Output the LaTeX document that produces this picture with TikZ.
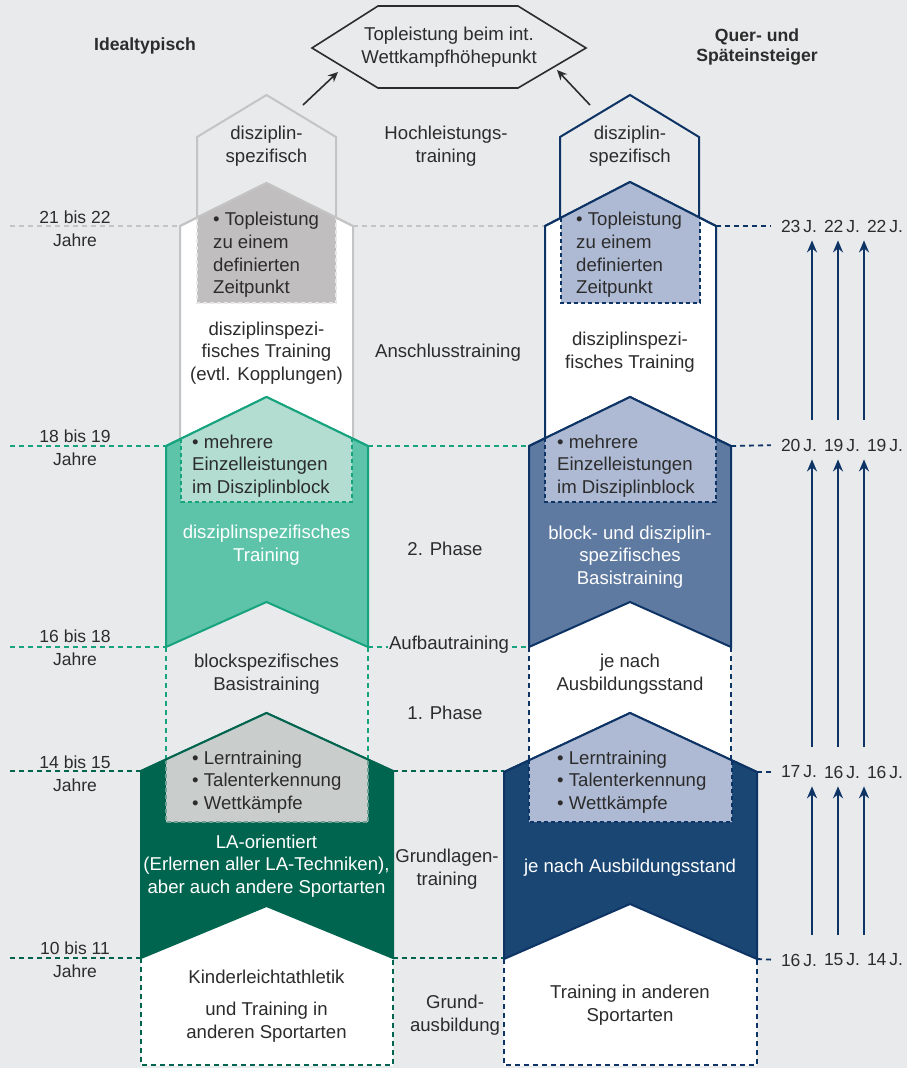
\documentclass[tikz,border=0pt]{standalone}
\usepackage{fontspec}
\setmainfont{Liberation Sans}
\usetikzlibrary{arrows.meta,positioning}
\definecolor{bg}{HTML}{E9EAEC}
\definecolor{txt}{HTML}{2C2C2C}
\definecolor{lgray}{HTML}{C4C4C4}
\definecolor{mgray}{HTML}{C1BEBF}
\definecolor{tgreen}{HTML}{16A37E}
\definecolor{mgreen}{HTML}{5EC4A9}
\definecolor{lgreen}{HTML}{B2DDD0}
\definecolor{dgreen}{HTML}{00654F}
\definecolor{ggray}{HTML}{C9CECC}
\definecolor{navy}{HTML}{0E3465}
\definecolor{mblue}{HTML}{5F7AA1}
\definecolor{lblue}{HTML}{AEBAD3}
\definecolor{dblue}{HTML}{1A4673}
\tikzset{
    lbl/.style={font=\fontsize{18.6}{22.6}\selectfont, text=txt, align=center, inner sep=1pt},
    wlbl/.style={lbl, text=white},
    blist/.style={lbl, align=left, anchor=west},
    agel/.style={lbl, font=\fontsize{17.5}{22.6}\selectfont},
    head/.style={lbl, font=\fontsize{17.6}{19.5}\selectfont\bfseries},
    stage line/.style={line width=1.8pt, dash pattern=on 5pt off 4pt},
    box line/.style={line width=1.5pt, dash pattern=on 4pt off 3pt},
    block/.style={line width=2pt},
    up arrow/.style={-{Stealth[length=12pt,width=10pt]}, line width=2pt, draw=navy, shorten <=18pt, shorten >=7pt},
    top arrow/.style={-{Stealth[length=10pt,width=9pt]}, line width=1.6pt, draw=txt}
}

\begin{document}
\begin{tikzpicture}[x=1pt,y=-1pt, every node/.style={lbl}]
	\fill[bg] (0,0) rectangle (907,1068);
	\useasboundingbox (0,0) rectangle (907,1068);

	\draw[stage line, lgray] (10,226) -- (180,226) (353,226) -- (545,226);
	\draw[stage line, tgreen] (10,446) -- (166,446) (368,446) -- (529,446) (10,647) -- (166,647) (368,647) -- (529,647);
	\draw[stage line, dgreen] (10,771) -- (141,771) (393,771) -- (504,771) (10,958) -- (141,958) (393,958) -- (504,958);

	\draw[block, lgray] (197,230) -- (197,137) -- (266.5,95) -- (336,137) -- (336,230);
	\filldraw[block, draw=lgray, fill=white] (180,460) -- (180,226) -- (266.5,183) -- (353,226) -- (353,460);
	\fill[mgray] (197,303) -- (197,217.5) -- (266.5,183) -- (336,217.5) -- (336,303) -- cycle;
	\draw[box line, lgray!40] (197,217.5) -- (197,303) -- (336,303) -- (336,217.5);
	\draw[block, lgray] (180,226) -- (266.5,183) -- (353,226);
	\draw[stage line, tgreen] (166,647) -- (166,780) (368,647) -- (368,780);
	\fill[white] (141,900) rectangle (393,1066);
	\draw[stage line, dgreen] (141,958) -- (141,1065) -- (393,1065) -- (393,958);
	\filldraw[block, draw=tgreen, fill=mgreen] (166,446) -- (266.5,397) -- (368,446) -- (368,647) -- (266.5,602) -- (166,647) -- cycle;
	\fill[lgreen] (181,502) -- (181,439) -- (266.5,397) -- (352,439) -- (352,502) -- cycle;
	\draw[box line, tgreen] (181,439) -- (181,502) -- (352,502) -- (352,439);
	\draw[block, tgreen] (166,446) -- (266.5,397) -- (368,446);
	\filldraw[block, draw=dgreen, fill=dgreen] (141,771) -- (266.5,713) -- (393,771) -- (393,958) -- (266.5,906) -- (141,958) -- cycle;
	\fill[ggray] (166,822) -- (166,759.5) -- (266.5,713) -- (368,759.5) -- (368,822) -- cycle;
	\draw[box line, dgreen!45!ggray] (166,759.5) -- (166,822) -- (368,822) -- (368,759.5);
	\draw[block, dgreen] (141,771) -- (266.5,713) -- (393,771);

	\draw[block, navy] (560,230) -- (560,137) -- (630,95) -- (699,137) -- (699,230);
	\filldraw[block, draw=navy, fill=white] (545,460) -- (545,226) -- (630,182) -- (716,226) -- (716,460);
	\fill[lblue] (561,303) -- (561,217.7) -- (630,182) -- (700,217.7) -- (700,303) -- cycle;
	\draw[box line, navy] (561,217.7) -- (561,303) -- (700,303) -- (700,217.7);
	\draw[block, navy] (545,226) -- (630,182) -- (716,226);
	\fill[white] (529,600) rectangle (731,780);
	\draw[stage line, navy] (529,647) -- (529,780) (731,647) -- (731,780);
	\fill[white] (504,900) rectangle (757,1066);
	\draw[stage line, navy] (504,959) -- (504,1065) -- (757,1065) -- (757,959);
	\filldraw[block, draw=navy, fill=mblue] (529,446) -- (630,397) -- (731,446) -- (731,647) -- (630,602) -- (529,647) -- cycle;
	\fill[lblue] (545,502) -- (545,438.2) -- (630,397) -- (716,438.7) -- (716,502) -- cycle;
	\draw[box line, navy] (545,438.2) -- (545,502) -- (716,502) -- (716,438.7);
	\draw[block, navy] (529,446) -- (630,397) -- (731,446);
	\filldraw[block, draw=navy, fill=dblue] (504,772) -- (630,713) -- (757,772) -- (757,959) -- (630,904) -- (504,959) -- cycle;
	\fill[lblue] (529,822) -- (529,760.3) -- (630,713) -- (732,760.3) -- (732,822) -- cycle;
	\draw[box line, navy] (529,760.3) -- (529,822) -- (732,822) -- (732,760.3);
	\draw[block, navy] (504,772) -- (630,713) -- (757,772);

	\draw[line width=1.6pt, txt] (312,48) -- (378,6) -- (518,6) -- (586,48) -- (518,88) -- (378,88) -- cycle;
	\node (peak) at (449,47) {Topleistung beim int.\\Wettkampfhöhepunkt};
	\coordinate (la) at (303,105);
	\coordinate (lb) at (338,72);
	\coordinate (ra) at (590,105);
	\coordinate (rb) at (557,70);
	\draw[top arrow] (la) -- (lb);
	\draw[top arrow] (ra) -- (rb);

	\node[head] (ideal) at (145,46) {Idealtypisch};
	\node[head] (quer) at (757,47) {Quer- und\\Späteinsteiger};

	\node[agel] (y21) at (75,229) {21 bis 22\\Jahre};
	\node[agel] (y18) at (75,448) {18 bis 19\\Jahre};
	\node[agel] (y16) at (75,648) {16 bis 18\\Jahre};
	\node[agel] (y14) at (75,774) {14 bis 15\\Jahre};
	\node[agel] (y10) at (75,960) {10 bis 11\\Jahre};

	\node (hl) at (446,146) {Hochleistungs-\\training};
	\node (an) at (448,353) {Anschlusstraining};
	\node (p2) at (445,549) {2. Phase};
	\node[fill=bg] (auf) at (449,645) {Aufbautraining};
	\node (p1) at (445,713) {1. Phase};
	\node (gl) at (447,869) {Grundlagen-\\training};
	\node (ga) at (455,1015) {Grund-\\ausbildung};

	\node (ls1) at (266.5,146) {disziplin-\\spezifisch};
	\node[blist] (ll1) at (212,255) {• Topleistung\\zu einem\\definierten\\Zeitpunkt};
	\node (ls2) at (266.5,353) {disziplinspezi-\\fisches Training\\(evtl. Kopplungen)};
	\node[blist] (ll2) at (191,466) {• mehrere\\Einzelleistungen\\im Disziplinblock};
	\node[wlbl] (ls3) at (266.5,545) {disziplinspezifisches\\Training};
	\node (ls4) at (266.5,674) {blockspezifisches\\Basistraining};
	\node[blist] (ll3) at (191,782) {• Lerntraining\\• Talenterkennung\\• Wettkämpfe};
	\node[wlbl] (ls5) at (266.5,866) {LA-orientiert\\(Erlernen aller LA-Techniken),\\aber auch andere Sportarten};
	\node (ls6) at (266.5,977) {Kinderleichtathletik};
	\node (ls7) at (266.5,1022) {und Training in\\anderen Sportarten};

	\node (rs1) at (630,146) {disziplin-\\spezifisch};
	\node[blist] (rl1) at (575,255) {• Topleistung\\zu einem\\definierten\\Zeitpunkt};
	\node (rs2) at (630,352) {disziplinspezi-\\fisches Training};
	\node[blist] (rl2) at (556,466) {• mehrere\\Einzelleistungen\\im Disziplinblock};
	\node[wlbl] (rs3) at (630,557) {block- und disziplin-\\spezifisches\\Basistraining};
	\node (rs4) at (630,674) {je nach\\Ausbildungsstand};
	\node[blist] (rl3) at (556,782) {• Lerntraining\\• Talenterkennung\\• Wettkämpfe};
	\node[wlbl] (rs5) at (630,868) {je nach Ausbildungsstand};
	\node (rs6) at (630,1005) {Training in anderen\\Sportarten};

	\foreach \r/\y/\a/\b/\c in {1/226/23/22/22, 2/445/20/19/19, 3/772/17/16/16, 4/960/16/15/14} {
		\node[agel] (r\r a) at (799,\y) {\a\,J.};
		\node[agel] (r\r b) at (842,\y) {\b\,J.};
		\node[agel] (r\r c) at (885,\y) {\c\,J.};
	}
	\draw[stage line, navy, shorten >=9pt] (716,226) -- (r1a.west);
	\draw[stage line, navy, shorten >=9pt] (731,446) -- (r2a.west);
	\draw[stage line, navy, shorten >=5pt] (757,772) -- (r3a.west);
	\draw[stage line, navy, shorten >=5pt] (757,959) -- (r4a.west);
	\foreach \x in {812,838,864} {
		\coordinate (ax) at (\x,0);
		\draw[up arrow] (r2a.north -| ax) -- (r1a.south -| ax);
		\draw[up arrow] (r3a.north -| ax) -- (r2a.south -| ax);
		\draw[up arrow] (r4a.north -| ax) -- (r3a.south -| ax);
	}
\end{tikzpicture}
\end{document}
